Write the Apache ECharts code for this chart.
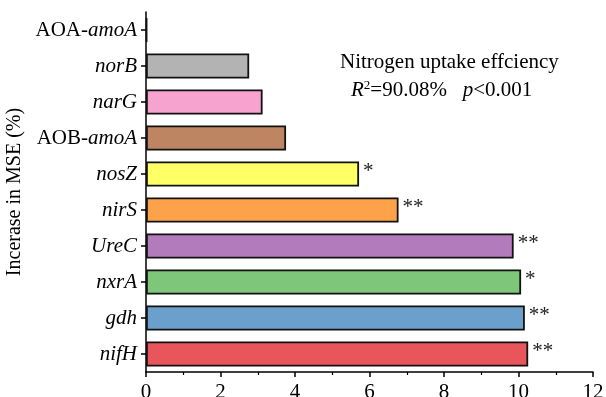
<!DOCTYPE html>
<html>
<head>
<meta charset="utf-8">
<script src="https://cdn.jsdelivr.net/npm/echarts@6/dist/echarts.min.js"></script>
<style>
  html, body { margin: 0; padding: 0; background: #fff; }
  #chart { width: 606px; height: 397px; }
</style>
</head>
<body>
<div id="chart"></div>
<script>
// Genes, bottom to top on the category axis
const genes = ['nifH', 'gdh', 'nxrA', 'UreC', 'nirS', 'nosZ', 'AOB-amoA', 'narG', 'norB', 'AOA-amoA'];
// Increase in MSE (%) for each gene
const mseIncrease = [10.26, 10.17, 10.07, 9.87, 6.78, 5.72, 3.76, 3.13, 2.77, 0.03];
// Significance markers
const signif = ['**', '**', '*', '**', '**', '*', '', '', '', ''];
// Bar fill colours
const barColors = ['#E8555A', '#6BA0CC', '#7DC67A', '#B27BBB', '#FDA24A', '#FFFF66', '#BE8563', '#F6A3CF', '#B3B3B3', '#B3B3B3'];
const xTicks = [0, 2, 4, 6, 8, 10, 12];

const serif = '"Liberation Serif", "DejaVu Serif", serif';

function geneLabel(name) {
  const m = name.match(/^(AO[AB]-)(.*)$/);
  if (m) return '{n|' + m[1] + '}{i|' + m[2] + '}';
  return '{i|' + name + '}';
}

const chart = echarts.init(document.getElementById('chart'));
chart.setOption({
  animation: false,
  grid: { left: 146, right: 13, top: 12, bottom: 25, containLabel: false, outerBoundsMode: 'none' },
  xAxis: {
    type: 'value',
    min: xTicks[0],
    max: xTicks[xTicks.length - 1],
    interval: 2,
    axisLine: { show: true, lineStyle: { color: '#000', width: 1.5 } },
    axisTick: { show: true, length: 5, lineStyle: { color: '#000', width: 1.5 } },
    minorTick: { show: true, splitNumber: 2, length: 3, lineStyle: { color: '#000', width: 1.2 } },
    splitLine: { show: false },
    axisLabel: { color: '#000', fontFamily: serif, fontSize: 21, margin: 10 }
  },
  yAxis: {
    type: 'category',
    data: genes,
    name: 'Incerase in MSE (%)',
    nameLocation: 'middle',
    nameGap: 116,
    nameRotate: 90,
    nameTextStyle: { color: '#000', fontFamily: serif, fontSize: 20 },
    axisLine: { show: true, lineStyle: { color: '#000', width: 1.5 } },
    axisTick: { show: true, length: 5, alignWithLabel: true, lineStyle: { color: '#000', width: 1.5 } },
    axisLabel: {
      margin: 9,
      formatter: geneLabel,
      rich: {
        n: { color: '#000', fontFamily: serif, fontSize: 21 },
        i: { color: '#000', fontFamily: serif, fontSize: 21, fontStyle: 'italic' }
      }
    }
  },
  series: [{
    type: 'bar',
    data: mseIncrease.map((v, i) => ({
      value: v,
      itemStyle: { color: barColors[i] },
      label: { show: signif[i] !== '', formatter: signif[i] }
    })),
    barWidth: '70%',
    itemStyle: { borderColor: '#111', borderWidth: 1.8 },
    label: {
      position: 'right',
      distance: 4,
      color: '#222',
      fontFamily: serif,
      fontSize: 21,
      offset: [0, -3]
    }
  }],
  graphic: [
    {
      type: 'text',
      left: 340,
      top: 52,
      style: { text: 'Nitrogen uptake effciency', fill: '#000', font: '21px ' + serif }
    },
    {
      type: 'text',
      left: 351,
      top: 79,
      style: {
        text: '{i|R}{s|2}{n|=90.08%   }{i|p}{n|<0.001}',
        rich: {
          i: { fill: '#000', fontFamily: serif, fontSize: 21, fontStyle: 'italic' },
          n: { fill: '#000', fontFamily: serif, fontSize: 21 },
          s: { fill: '#000', fontFamily: serif, fontSize: 13, verticalAlign: 'top', padding: [0, 0, 9, 0] }
        }
      }
    }
  ]
});
</script>
</body>
</html>
